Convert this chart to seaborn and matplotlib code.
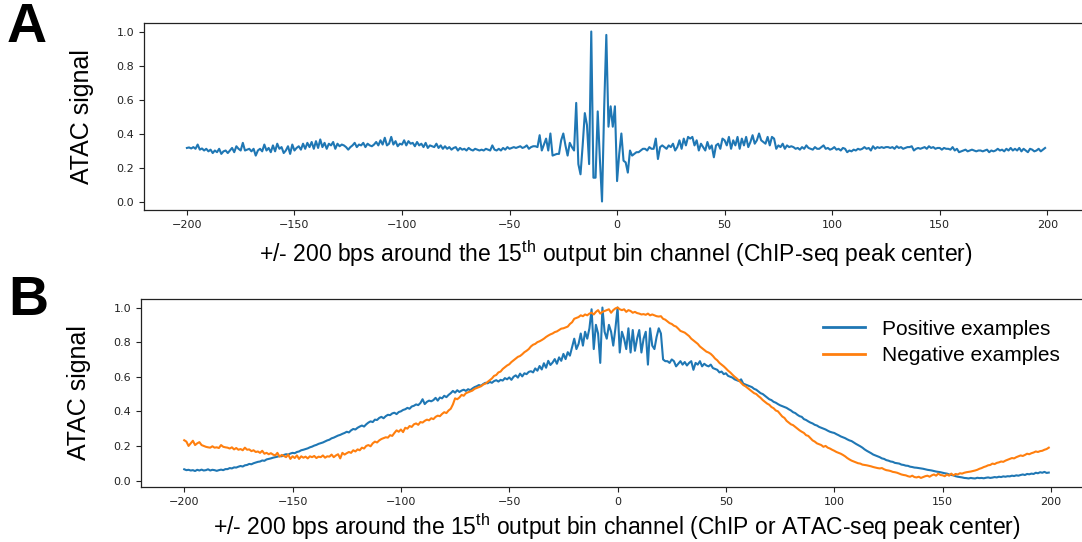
import numpy as np
import pandas as pd
import matplotlib
matplotlib.use("Agg")
import matplotlib.pyplot as plt
import seaborn as sns

# ---------------- data ----------------
positions = list(range(-200, 200))

atac_a = [
    0.315, 0.318, 0.312, 0.320, 0.310, 0.335, 0.305, 0.312, 0.300, 0.310, 0.295, 0.305, 0.285, 0.300, 0.290, 0.310, 0.280, 0.295, 0.300, 0.285,
    0.300, 0.315, 0.290, 0.325, 0.310, 0.300, 0.345, 0.300, 0.305, 0.310, 0.295, 0.310, 0.270, 0.300, 0.310, 0.295, 0.335, 0.300, 0.315, 0.290,
    0.330, 0.295, 0.340, 0.310, 0.320, 0.285, 0.300, 0.325, 0.280, 0.335, 0.300, 0.315, 0.325, 0.305, 0.340, 0.310, 0.345, 0.320, 0.350, 0.310,
    0.355, 0.315, 0.365, 0.320, 0.345, 0.310, 0.340, 0.330, 0.350, 0.310, 0.340, 0.325, 0.335, 0.330, 0.320, 0.305, 0.320, 0.330, 0.345, 0.320,
    0.335, 0.330, 0.345, 0.320, 0.340, 0.330, 0.325, 0.335, 0.350, 0.330, 0.360, 0.335, 0.375, 0.330, 0.340, 0.380, 0.335, 0.355, 0.325, 0.340,
    0.335, 0.360, 0.330, 0.355, 0.340, 0.345, 0.325, 0.350, 0.330, 0.340, 0.320, 0.345, 0.315, 0.330, 0.325, 0.320, 0.340, 0.315, 0.330, 0.310,
    0.325, 0.310, 0.320, 0.305, 0.315, 0.320, 0.300, 0.315, 0.305, 0.310, 0.300, 0.315, 0.305, 0.300, 0.310, 0.305, 0.300, 0.305, 0.300, 0.310,
    0.305, 0.300, 0.330, 0.305, 0.300, 0.310, 0.300, 0.315, 0.305, 0.320, 0.310, 0.315, 0.320, 0.315, 0.320, 0.325, 0.315, 0.320, 0.330, 0.310,
    0.320, 0.325, 0.325, 0.320, 0.390, 0.300, 0.335, 0.370, 0.300, 0.400, 0.270, 0.275, 0.280, 0.280, 0.360, 0.400, 0.330, 0.270, 0.345, 0.320,
    0.300, 0.580, 0.220, 0.160, 0.330, 0.520, 0.450, 0.220, 1.000, 0.140, 0.140, 0.530, 0.250, 0.000, 0.550, 0.980, 0.440, 0.560, 0.440, 0.560,
    0.120, 0.280, 0.400, 0.240, 0.230, 0.170, 0.300, 0.270, 0.280, 0.290, 0.290, 0.300, 0.310, 0.310, 0.300, 0.320, 0.310, 0.310, 0.370, 0.250,
    0.320, 0.330, 0.320, 0.310, 0.330, 0.320, 0.340, 0.300, 0.320, 0.360, 0.310, 0.370, 0.330, 0.380, 0.370, 0.380, 0.330, 0.360, 0.300, 0.340,
    0.320, 0.300, 0.350, 0.310, 0.330, 0.260, 0.330, 0.340, 0.310, 0.370, 0.360, 0.330, 0.380, 0.310, 0.360, 0.330, 0.380, 0.310, 0.370, 0.330,
    0.380, 0.320, 0.350, 0.390, 0.340, 0.360, 0.400, 0.360, 0.350, 0.340, 0.380, 0.330, 0.380, 0.370, 0.310, 0.330, 0.320, 0.340, 0.310, 0.330,
    0.320, 0.325, 0.320, 0.310, 0.315, 0.305, 0.320, 0.310, 0.330, 0.315, 0.310, 0.305, 0.320, 0.310, 0.310, 0.320, 0.330, 0.310, 0.315, 0.305,
    0.310, 0.320, 0.305, 0.310, 0.300, 0.315, 0.310, 0.290, 0.300, 0.295, 0.305, 0.300, 0.310, 0.305, 0.310, 0.320, 0.310, 0.315, 0.300, 0.325,
    0.310, 0.320, 0.315, 0.320, 0.315, 0.320, 0.320, 0.315, 0.320, 0.310, 0.325, 0.315, 0.320, 0.310, 0.315, 0.320, 0.320, 0.325, 0.300, 0.310,
    0.315, 0.310, 0.315, 0.320, 0.310, 0.325, 0.315, 0.320, 0.310, 0.315, 0.315, 0.305, 0.315, 0.310, 0.310, 0.305, 0.320, 0.300, 0.310, 0.290,
    0.295, 0.300, 0.305, 0.295, 0.300, 0.305, 0.300, 0.295, 0.300, 0.300, 0.295, 0.300, 0.305, 0.290, 0.300, 0.295, 0.300, 0.310, 0.300, 0.305,
    0.295, 0.310, 0.300, 0.315, 0.300, 0.310, 0.300, 0.315, 0.295, 0.310, 0.300, 0.290, 0.310, 0.305, 0.295, 0.300, 0.310, 0.295, 0.305, 0.315,
]

positive = [
    0.065, 0.060, 0.062, 0.058, 0.060, 0.055, 0.062, 0.058, 0.063, 0.058, 0.060, 0.065, 0.058, 0.062, 0.060, 0.056, 0.060, 0.063, 0.060, 0.066,
    0.066, 0.072, 0.070, 0.076, 0.075, 0.080, 0.084, 0.081, 0.088, 0.090, 0.096, 0.094, 0.100, 0.104, 0.108, 0.110, 0.116, 0.114, 0.122, 0.125,
    0.128, 0.132, 0.135, 0.138, 0.142, 0.140, 0.148, 0.152, 0.150, 0.156, 0.160, 0.158, 0.165, 0.168, 0.175, 0.178, 0.182, 0.186, 0.192, 0.196,
    0.202, 0.206, 0.212, 0.216, 0.220, 0.226, 0.232, 0.236, 0.244, 0.248, 0.254, 0.260, 0.264, 0.270, 0.275, 0.282, 0.278, 0.290, 0.298, 0.295,
    0.305, 0.312, 0.318, 0.312, 0.325, 0.335, 0.342, 0.338, 0.352, 0.350, 0.362, 0.368, 0.360, 0.372, 0.380, 0.378, 0.388, 0.392, 0.384, 0.396,
    0.400, 0.408, 0.412, 0.420, 0.415, 0.428, 0.432, 0.440, 0.436, 0.448, 0.470, 0.442, 0.455, 0.462, 0.458, 0.465, 0.478, 0.462, 0.480, 0.475,
    0.490, 0.482, 0.495, 0.505, 0.518, 0.508, 0.522, 0.512, 0.520, 0.525, 0.518, 0.528, 0.522, 0.532, 0.540, 0.545, 0.552, 0.548, 0.558, 0.565,
    0.562, 0.570, 0.565, 0.575, 0.580, 0.572, 0.582, 0.578, 0.592, 0.585, 0.596, 0.582, 0.600, 0.608, 0.595, 0.618, 0.602, 0.620, 0.615, 0.628,
    0.632, 0.625, 0.648, 0.635, 0.662, 0.642, 0.678, 0.652, 0.692, 0.668, 0.682, 0.702, 0.675, 0.712, 0.692, 0.732, 0.702, 0.742, 0.722, 0.770,
    0.820, 0.760, 0.790, 0.850, 0.780, 0.860, 0.820, 0.880, 0.990, 0.760, 0.900, 0.850, 0.680, 1.000, 0.860, 0.820, 0.900, 0.860, 0.780, 0.880,
    1.000, 0.740, 0.860, 0.820, 0.760, 0.880, 0.740, 0.870, 0.750, 0.820, 0.870, 0.740, 0.820, 0.860, 0.670, 0.880, 0.780, 0.760, 0.830, 0.880,
    0.850, 0.700, 0.690, 0.690, 0.680, 0.700, 0.690, 0.660, 0.675, 0.690, 0.670, 0.685, 0.665, 0.680, 0.690, 0.640, 0.680, 0.670, 0.690, 0.660,
    0.675, 0.665, 0.660, 0.670, 0.650, 0.645, 0.640, 0.625, 0.630, 0.615, 0.620, 0.605, 0.600, 0.595, 0.585, 0.580, 0.575, 0.585, 0.560, 0.555,
    0.550, 0.545, 0.540, 0.530, 0.525, 0.515, 0.505, 0.500, 0.490, 0.480, 0.470, 0.465, 0.455, 0.450, 0.442, 0.435, 0.430, 0.425, 0.420, 0.412,
    0.405, 0.395, 0.390, 0.380, 0.372, 0.368, 0.355, 0.350, 0.342, 0.335, 0.330, 0.322, 0.318, 0.310, 0.305, 0.300, 0.295, 0.288, 0.282, 0.278,
    0.275, 0.268, 0.262, 0.255, 0.250, 0.245, 0.238, 0.232, 0.228, 0.220, 0.212, 0.205, 0.198, 0.190, 0.180, 0.172, 0.165, 0.158, 0.150, 0.145,
    0.140, 0.135, 0.128, 0.125, 0.118, 0.115, 0.110, 0.108, 0.102, 0.100, 0.098, 0.092, 0.090, 0.086, 0.085, 0.080, 0.078, 0.075, 0.074, 0.072,
    0.070, 0.068, 0.065, 0.062, 0.060, 0.058, 0.055, 0.052, 0.050, 0.048, 0.045, 0.042, 0.040, 0.035, 0.032, 0.030, 0.025, 0.022, 0.020, 0.018,
    0.015, 0.014, 0.012, 0.015, 0.013, 0.012, 0.016, 0.014, 0.015, 0.013, 0.016, 0.018, 0.015, 0.017, 0.020, 0.018, 0.022, 0.020, 0.024, 0.022,
    0.025, 0.024, 0.028, 0.026, 0.030, 0.028, 0.032, 0.035, 0.032, 0.038, 0.036, 0.040, 0.038, 0.045, 0.042, 0.048, 0.045, 0.050, 0.044, 0.046,
]

negative = [
    0.233, 0.225, 0.200, 0.215, 0.230, 0.205, 0.215, 0.222, 0.205, 0.200, 0.195, 0.192, 0.190, 0.198, 0.190, 0.192, 0.188, 0.205, 0.195, 0.192,
    0.190, 0.185, 0.192, 0.180, 0.188, 0.178, 0.182, 0.175, 0.190, 0.178, 0.180, 0.170, 0.175, 0.165, 0.168, 0.160, 0.172, 0.155, 0.160, 0.152,
    0.158, 0.150, 0.145, 0.160, 0.138, 0.148, 0.142, 0.135, 0.150, 0.125, 0.140, 0.130, 0.145, 0.125, 0.140, 0.132, 0.138, 0.128, 0.140, 0.135,
    0.142, 0.130, 0.138, 0.135, 0.145, 0.132, 0.140, 0.138, 0.150, 0.135, 0.145, 0.152, 0.128, 0.160, 0.150, 0.158, 0.165, 0.160, 0.175, 0.168,
    0.180, 0.175, 0.190, 0.185, 0.200, 0.205, 0.198, 0.215, 0.225, 0.220, 0.232, 0.240, 0.245, 0.250, 0.248, 0.262, 0.258, 0.275, 0.290, 0.282,
    0.295, 0.280, 0.305, 0.300, 0.315, 0.310, 0.325, 0.330, 0.322, 0.338, 0.335, 0.345, 0.352, 0.348, 0.360, 0.355, 0.368, 0.375, 0.372, 0.385,
    0.395, 0.390, 0.405, 0.415, 0.440, 0.475, 0.470, 0.480, 0.495, 0.490, 0.505, 0.510, 0.515, 0.520, 0.530, 0.535, 0.540, 0.545, 0.555, 0.560,
    0.570, 0.580, 0.590, 0.605, 0.610, 0.625, 0.630, 0.645, 0.655, 0.665, 0.672, 0.685, 0.695, 0.705, 0.715, 0.720, 0.730, 0.742, 0.750, 0.760,
    0.775, 0.785, 0.790, 0.800, 0.805, 0.812, 0.820, 0.830, 0.838, 0.845, 0.850, 0.858, 0.862, 0.870, 0.878, 0.880, 0.885, 0.890, 0.905, 0.915,
    0.935, 0.940, 0.945, 0.955, 0.950, 0.960, 0.955, 0.965, 0.970, 0.960, 0.975, 0.985, 0.965, 0.975, 0.980, 0.985, 0.990, 0.970, 0.985, 0.995,
    1.000, 0.990, 0.985, 0.990, 0.975, 0.985, 0.980, 0.970, 0.975, 0.968, 0.965, 0.960, 0.962, 0.958, 0.965, 0.955, 0.960, 0.955, 0.950, 0.948,
    0.950, 0.935, 0.930, 0.920, 0.910, 0.905, 0.895, 0.890, 0.878, 0.865, 0.860, 0.855, 0.845, 0.835, 0.820, 0.810, 0.800, 0.790, 0.775, 0.765,
    0.755, 0.745, 0.740, 0.732, 0.720, 0.705, 0.695, 0.680, 0.670, 0.660, 0.648, 0.635, 0.625, 0.612, 0.600, 0.590, 0.578, 0.565, 0.552, 0.545,
    0.535, 0.525, 0.515, 0.505, 0.500, 0.488, 0.478, 0.465, 0.455, 0.445, 0.438, 0.425, 0.418, 0.405, 0.400, 0.385, 0.370, 0.362, 0.345, 0.335,
    0.325, 0.320, 0.310, 0.300, 0.290, 0.282, 0.275, 0.262, 0.258, 0.245, 0.232, 0.225, 0.215, 0.210, 0.205, 0.195, 0.200, 0.190, 0.185, 0.178,
    0.172, 0.165, 0.160, 0.155, 0.148, 0.140, 0.130, 0.122, 0.115, 0.110, 0.105, 0.100, 0.098, 0.092, 0.090, 0.088, 0.085, 0.082, 0.078, 0.075,
    0.072, 0.070, 0.072, 0.065, 0.060, 0.058, 0.055, 0.050, 0.048, 0.045, 0.040, 0.035, 0.032, 0.030, 0.025, 0.022, 0.028, 0.020, 0.018, 0.022,
    0.015, 0.020, 0.025, 0.028, 0.022, 0.030, 0.035, 0.028, 0.040, 0.032, 0.030, 0.025, 0.035, 0.028, 0.040, 0.030, 0.038, 0.035, 0.042, 0.040,
    0.045, 0.048, 0.050, 0.052, 0.055, 0.058, 0.062, 0.068, 0.072, 0.078, 0.082, 0.088, 0.090, 0.098, 0.095, 0.102, 0.105, 0.110, 0.108, 0.115,
    0.120, 0.125, 0.130, 0.128, 0.135, 0.140, 0.145, 0.142, 0.148, 0.155, 0.152, 0.158, 0.162, 0.168, 0.165, 0.170, 0.172, 0.178, 0.182, 0.190,
]

series_names = ["Positive examples", "Negative examples"]
ylabel_text = "ATAC signal"
xlabel_a = r"+/- 200 bps around the 15$^{\mathrm{th}}$ output bin channel (ChIP-seq peak center)"
xlabel_b = r"+/- 200 bps around the 15$^{\mathrm{th}}$ output bin channel (ChIP or ATAC-seq peak center)"

# ---------------- style ----------------
plt.rcParams["mathtext.fontset"] = "custom"
plt.rcParams["mathtext.rm"] = "Liberation Sans"
plt.rcParams["mathtext.default"] = "regular"

label_font = "Liberation Sans"
colors = ["#1f77b4", "#ff7f0e"]

fig = plt.figure(figsize=(10.82, 5.42), dpi=100)
W, H = 1082, 542
axA = fig.add_axes([144 / W, 1 - 210 / H, (1088 - 144) / W, (210 - 23) / H])
axB = fig.add_axes([141 / W, 1 - 487 / H, (1092 - 141) / W, (487 - 299) / H])

dfA = pd.DataFrame({"pos": positions, "signal": atac_a})
sns.lineplot(data=dfA, x="pos", y="signal", ax=axA, color=colors[0], linewidth=1.5)

dfB = pd.concat([
    pd.DataFrame({"pos": positions, "signal": positive, "kind": series_names[0]}),
    pd.DataFrame({"pos": positions, "signal": negative, "kind": series_names[1]}),
])
sns.lineplot(data=dfB, x="pos", y="signal", hue="kind", palette=colors, ax=axB, linewidth=1.5)

for ax, xl, lp in ((axA, xlabel_a, 6), (axB, xlabel_b, 3)):
    ax.set_xticks([-200, -150, -100, -50, 0, 50, 100, 150, 200])
    ax.set_yticks([0.0, 0.2, 0.4, 0.6, 0.8, 1.0])
    ax.tick_params(labelsize=8, length=3.5, width=0.8, colors="#222222")
    ax.set_xlabel(xl, fontsize=16.5, family=label_font, labelpad=lp)
    ax.set_ylabel(ylabel_text, fontsize=18, family=label_font, labelpad=16)
    for s in ax.spines.values():
        s.set_linewidth(0.9)
        s.set_color("#222222")

leg = axB.legend(loc="upper right", frameon=False, handlelength=2.0,
                 borderaxespad=0.3, labelspacing=0.35,
                 prop={"family": label_font, "size": 15})
leg.set_bbox_to_anchor((1074 / W, 1 - 305 / H), transform=fig.transFigure)
for line in leg.get_lines():
    line.set_linewidth(2.0)

fig.text(7 / W, 1 - 2 / H, "A", fontsize=40, fontweight="bold", family=label_font, va="top", ha="left")
fig.text(8 / W, 1 - 275 / H, "B", fontsize=40, fontweight="bold", family=label_font, va="top", ha="left")

fig.savefig("out.png", dpi=100)
